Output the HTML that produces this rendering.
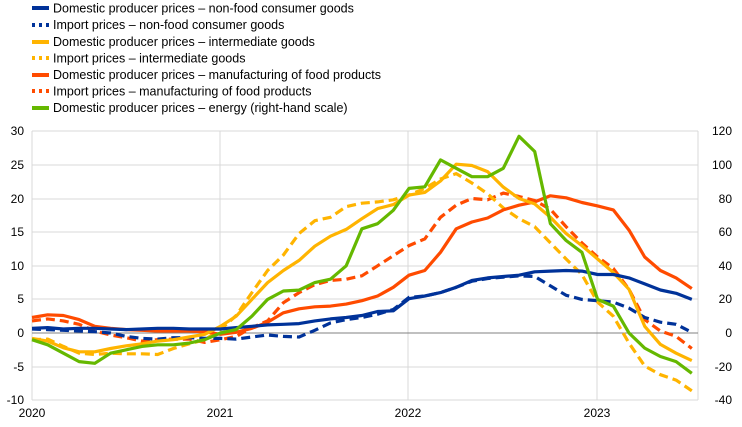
<!DOCTYPE html>
<html><head><meta charset="utf-8"><style>
body{margin:0;background:#fff;}
svg{display:block;font-family:"Liberation Sans",Arial,sans-serif;}
</style></head><body>
<svg id="c" width="742" height="427" viewBox="0 0 742 427" xmlns="http://www.w3.org/2000/svg">
<g stroke="#d9d9d9" stroke-width="1">
<line x1="32" y1="131" x2="698" y2="131"/><line x1="32" y1="165" x2="698" y2="165"/><line x1="32" y1="199" x2="698" y2="199"/><line x1="32" y1="232" x2="698" y2="232"/><line x1="32" y1="266" x2="698" y2="266"/><line x1="32" y1="299" x2="698" y2="299"/><line x1="32" y1="367" x2="698" y2="367"/><line x1="32" y1="400" x2="698" y2="400"/>
<line x1="32" y1="131" x2="32" y2="400"/><line x1="220" y1="131" x2="220" y2="400"/><line x1="408" y1="131" x2="408" y2="400"/><line x1="597" y1="131" x2="597" y2="400"/><line x1="698" y1="131" x2="698" y2="400"/>
</g>
<line x1="32" y1="333" x2="698" y2="333" stroke="#808080" stroke-width="1"/>
<g font-size="12" fill="#000" text-anchor="end">
<text x="24" y="135">30</text><text x="24" y="169">25</text><text x="24" y="203">20</text><text x="24" y="236">15</text><text x="24" y="270">10</text><text x="24" y="303">5</text><text x="24" y="337">0</text><text x="24" y="371">-5</text><text x="24" y="404">-10</text>
</g>
<g font-size="12" fill="#000" text-anchor="end">
<text x="732" y="135">120</text><text x="732" y="169">100</text><text x="732" y="203">80</text><text x="732" y="236">60</text><text x="732" y="270">40</text><text x="732" y="303">20</text><text x="732" y="337">0</text><text x="732" y="371">-20</text><text x="732" y="404">-40</text>
</g>
<g font-size="12" fill="#000" text-anchor="middle">
<text x="32" y="417">2020</text><text x="220" y="417">2021</text><text x="408" y="417">2022</text><text x="597" y="417">2023</text>
</g>
<g id="series" fill="none" stroke-width="3.2" stroke-linejoin="round"></g>
<g font-size="12.5" fill="#000">
<rect x="32" y="6" width="17" height="4" fill="#003299"/><text x="53" y="12.5">Domestic producer prices – non-food consumer goods</text>
<g fill="#003299"><rect x="32" y="23" width="3" height="4"/><rect x="39" y="23" width="3" height="4"/><rect x="46" y="23" width="3" height="4"/></g><text x="53" y="29">Import prices – non-food consumer goods</text>
<rect x="32" y="40" width="17" height="4" fill="#ffb400"/><text x="53" y="46">Domestic producer prices – intermediate goods</text>
<g fill="#ffb400"><rect x="32" y="56" width="3" height="4"/><rect x="39" y="56" width="3" height="4"/><rect x="46" y="56" width="3" height="4"/></g><text x="53" y="62.5">Import prices – intermediate goods</text>
<rect x="32" y="73" width="17" height="4" fill="#ff4b00"/><text x="53" y="79">Domestic producer prices – manufacturing of food products</text>
<g fill="#ff4b00"><rect x="32" y="89" width="3" height="4"/><rect x="39" y="89" width="3" height="4"/><rect x="46" y="89" width="3" height="4"/></g><text x="53" y="95.5">Import prices – manufacturing of food products</text>
<rect x="32" y="106" width="17" height="4" fill="#65b800"/><text x="53" y="112">Domestic producer prices – energy (right-hand scale)</text>
</g>
</svg>
<script>
var S=[
["#ff4b00",1,[1.8,2.1,1.8,1.3,0.3,-0.3,-0.7,-1.2,-1.0,-0.9,-0.9,-1.4,-1.0,-0.5,0.8,1.8,4.5,6.0,7.2,7.8,8.0,8.5,10.0,11.5,13.0,14.0,17.2,19.0,20.0,19.8,20.8,20.3,19.7,18.4,15.8,13.4,11.3,9.6,6.5,2.0,0.3,-0.5,-2.3],0],
["#ffb400",1,[-1.0,-0.9,-2.0,-3.0,-3.2,-3.0,-3.1,-3.1,-3.2,-2.3,-1.6,-1.0,0.5,2.6,6.0,9.3,11.6,14.8,16.7,17.2,18.8,19.3,19.5,19.8,20.5,21.5,22.9,23.7,22.3,20.7,18.6,17.0,15.8,13.4,11.0,8.7,4.6,2.5,-1.5,-4.9,-6.2,-7.0,-8.6],0],
["#003299",1,[0.6,0.5,0.4,0.3,0.2,0.0,-0.5,-0.8,-0.9,-0.7,-0.7,-0.8,-0.8,-0.9,-0.6,-0.3,-0.5,-0.6,0.4,1.5,2.0,2.3,2.8,3.5,5.3,5.5,6.0,6.8,7.7,8.1,8.3,8.5,8.4,7.0,5.6,5.0,4.8,4.6,3.7,2.3,1.6,1.3,0.1],0],
["#ff4b00",0,[2.3,2.7,2.6,2.0,1.0,0.7,0.5,0.4,0.3,0.3,0.3,0.2,-0.2,0.1,0.7,1.6,3.0,3.6,3.9,4.0,4.3,4.8,5.5,6.8,8.6,9.3,12.0,15.5,16.5,17.1,18.3,19.0,19.5,20.4,20.1,19.4,18.9,18.3,15.3,11.3,9.3,8.2,6.6],0],
["#ffb400",0,[-0.8,-1.2,-2.2,-2.8,-2.8,-2.3,-1.9,-1.6,-1.2,-1.0,-0.6,-0.2,1.0,2.5,5.0,7.5,9.3,10.8,12.9,14.4,15.4,17.0,18.5,19.1,20.5,20.9,22.6,25.1,24.9,24.0,21.7,20.0,19.2,17.2,14.8,13.0,11.0,9.0,6.5,1.0,-1.7,-3.0,-4.1],0],
["#003299",0,[0.7,0.8,0.6,0.7,0.7,0.6,0.5,0.6,0.7,0.7,0.6,0.6,0.6,0.8,1.0,1.2,1.3,1.4,1.8,2.1,2.3,2.6,3.2,3.3,5.1,5.5,6.0,6.8,7.8,8.2,8.4,8.6,9.1,9.2,9.3,9.2,8.7,8.7,8.2,7.3,6.4,5.9,5.0],0],
["#65b800",0,[-4,-7,-12,-17,-18,-12,-10,-8,-7,-7,-6,-4,0,2,10,20,25,25.5,30,32,40,62,65,73,86,87,103,98,93,93,98,117,108,65,55,48,20,16,0,-9,-14,-17,-24],1]
];
var g=document.getElementById("series"),ns="http://www.w3.org/2000/svg";
S.forEach(function(s){var d="";s[2].forEach(function(v,i){var x=32+i*15.71;var y=s[3]?333-v*1.681:333-v*6.725;d+=(i?"L":"M")+x.toFixed(1)+" "+y.toFixed(1);});
var p=document.createElementNS(ns,"path");p.setAttribute("d",d);p.setAttribute("stroke",s[0]);if(s[1])p.setAttribute("stroke-dasharray","9 5");g.appendChild(p);});
</script>
</body></html>
